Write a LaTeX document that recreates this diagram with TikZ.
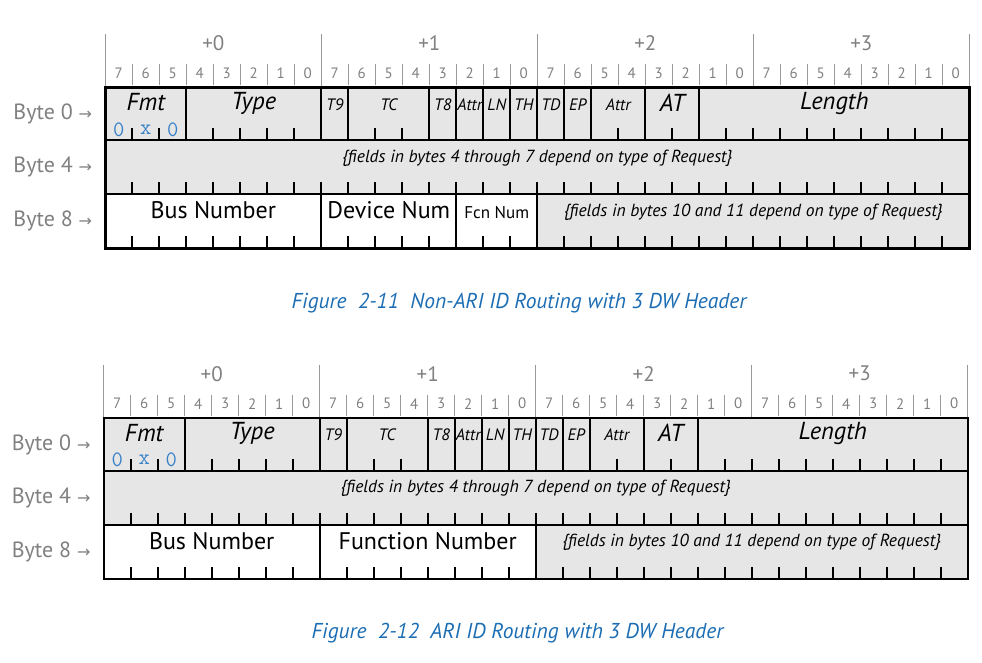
\documentclass[tikz,border=0pt]{standalone}
\usepackage{fontspec}
\setmainfont{PT Sans}
\newfontfamily\arrowfont{DejaVu Sans}
\usetikzlibrary{positioning}

\definecolor{fieldgray}{HTML}{E6E6E6}
\definecolor{labelgray}{HTML}{808080}
\definecolor{capblue}{HTML}{1C6DB3}
\definecolor{hexblue}{HTML}{3A82C8}

\tikzset{
  hdrline/.style={draw=labelgray!80, line width=0.9pt},
  bitnum/.style={text=labelgray, font=\fontsize{15}{15}\selectfont, inner sep=0pt},
  bytenum/.style={text=labelgray, font=\fontsize{21}{21}\selectfont, inner sep=0pt},
  rowlabel/.style={text=labelgray, font=\fontsize{22}{22}\selectfont, anchor=east, inner sep=0pt},
  bigfield/.style={font=\fontsize{24.5}{24.5}\selectfont\itshape, inner sep=0pt},
  smallfield/.style={font=\fontsize{16.5}{16.5}\selectfont\itshape, inner sep=0pt},
  namefield/.style={font=\fontsize{24}{24}\selectfont, inner sep=0pt},
  notefield/.style={font=\fontsize{17.5}{17.5}\selectfont\itshape, inner sep=0pt},
  hexdigit/.style={text=hexblue, font=\fontsize{22}{22}\selectfont\ttfamily, inner sep=0pt},
  divider/.style={line width=2.2pt},
  tick/.style={line width=1.9pt},
  caption/.style={text=capblue, font=\fontsize{21.5}{21.5}\selectfont\itshape, inner sep=0pt}
}

% header, DW 0 and DW 1 of the 3 DW header (shared by both figures)
\newcommand{\dwheader}{%
  % byte and bit numbers
  \foreach \b in {0,...,4}
    \draw[hdrline] (216*\b,-53) -- (216*\b,0);
  \foreach \b in {0,...,3}
    \node[bytenum] (plus\b) at (216*\b+108,-44) {+\b};
  \foreach \c in {1,...,31}
    \draw[hdrline] (27*\c,-23) -- (27*\c,-2);
  \foreach \c [evaluate=\c as \bitno using {int(7-mod(\c,8))}] in {0,...,31}
    \node[bitnum] (bit\c) at (27*\c+13.5,-14) {\bitno};
  % row fills
  \fill[fieldgray] (0,0) rectangle (864,107);
  % DW 0 fields
  \node[bigfield] (fmt) at (40.5,15) {Fmt};
  \node[hexdigit] (hexa) at (13.5,42) {0};
  \node[hexdigit] (hexx) at (40.5,42) {x};
  \node[hexdigit] (hexb) at (67.5,42) {0};
  \node[bigfield] (type) at (148.5,16) {Type};
  \node[smallfield] (tnine) at (229.5,17) {T9};
  \node[smallfield] (tc) at (283.5,17) {TC};
  \node[smallfield] (teight) at (337.5,17) {T8};
  \node[smallfield] (attra) at (364.5,17) {Attr};
  \node[smallfield] (ln) at (391.5,17) {LN};
  \node[smallfield] (th) at (418.5,17) {TH};
  \node[smallfield] (td) at (445.5,17) {TD};
  \node[smallfield] (ep) at (472.5,17) {EP};
  \node[smallfield] (attrb) at (513,17) {Attr};
  \node[bigfield] (at) at (567,15) {AT};
  \node[bigfield] (length) at (729,16) {Length};
  \foreach \c in {3,8,9,12,13,14,15,16,17,18,20,22}
    \draw[divider] (27*\c,0) -- (27*\c,53);
  % DW 1
  \node[notefield] (dwone) at (432,71) {\{fields in bytes 4 through 7 depend on type of Request\}};
  % byte labels
  \node[rowlabel] (byte0) at (-13,27) {Byte 0 {\arrowfont\fontsize{16}{16}\selectfont →}};
  \node[rowlabel] (byte4) at (-13,80) {Byte 4 {\arrowfont\fontsize{16}{16}\selectfont →}};
  \node[rowlabel] (byte8) at (-13,134) {Byte 8 {\arrowfont\fontsize{16}{16}\selectfont →}};
}

% bit ticks and outline, drawn last
\newcommand{\dwframe}{%
  \foreach \r in {53,107,161}
    \foreach \c in {1,...,31}
      \draw[tick] (27*\c,\r) -- (27*\c,\r-12);
  \draw[divider] (0,53) -- (864,53);
  \draw[divider] (0,107) -- (864,107);
  \draw[line width=2.4pt] (0,0) rectangle (864,161);
}

\begin{document}
\begin{tikzpicture}[x=1pt,y=-1pt]
  \useasboundingbox (0,0) rectangle (982,662);

  % Figure 2-11
  \begin{scope}[shift={(105.3,87.3)}]
    \dwheader
    % DW 2
    \fill[fieldgray] (432,107) rectangle (864,161);
    \node[namefield] (bus) at (108,123) {Bus Number};
    \node[namefield] (dev) at (283.5,123) {Device Num};
    \node[font=\fontsize{17}{17}\selectfont, inner sep=0pt] (fcn) at (391.5,125) {Fcn Num};
    \node[notefield] (dwtwo) at (648,125) {\{fields in bytes 10 and 11 depend on type of Request\}};
    \foreach \c in {8,13,16}
      \draw[divider] (27*\c,107) -- (27*\c,161);
    \dwframe
    \node[caption] (capa) at (413.7,215.7) {Figure\ \ 2-11\ \ Non-ARI ID Routing with 3 DW Header};
  \end{scope}

  % Figure 2-12
  \begin{scope}[shift={(103.7,417.7)}]
    \dwheader
    % DW 2
    \fill[fieldgray] (432,107) rectangle (864,161);
    \node[namefield] (bus) at (108,123) {Bus Number};
    \node[namefield] (fn) at (324,123) {Function Number};
    \node[notefield] (dwtwo) at (648,125) {\{fields in bytes 10 and 11 depend on type of Request\}};
    \foreach \c in {8,16}
      \draw[divider] (27*\c,107) -- (27*\c,161);
    \dwframe
    \node[caption] (capb) at (413.8,215.3) {Figure\ \ 2-12\ \ ARI ID Routing with 3 DW Header};
  \end{scope}
\end{tikzpicture}
\end{document}
